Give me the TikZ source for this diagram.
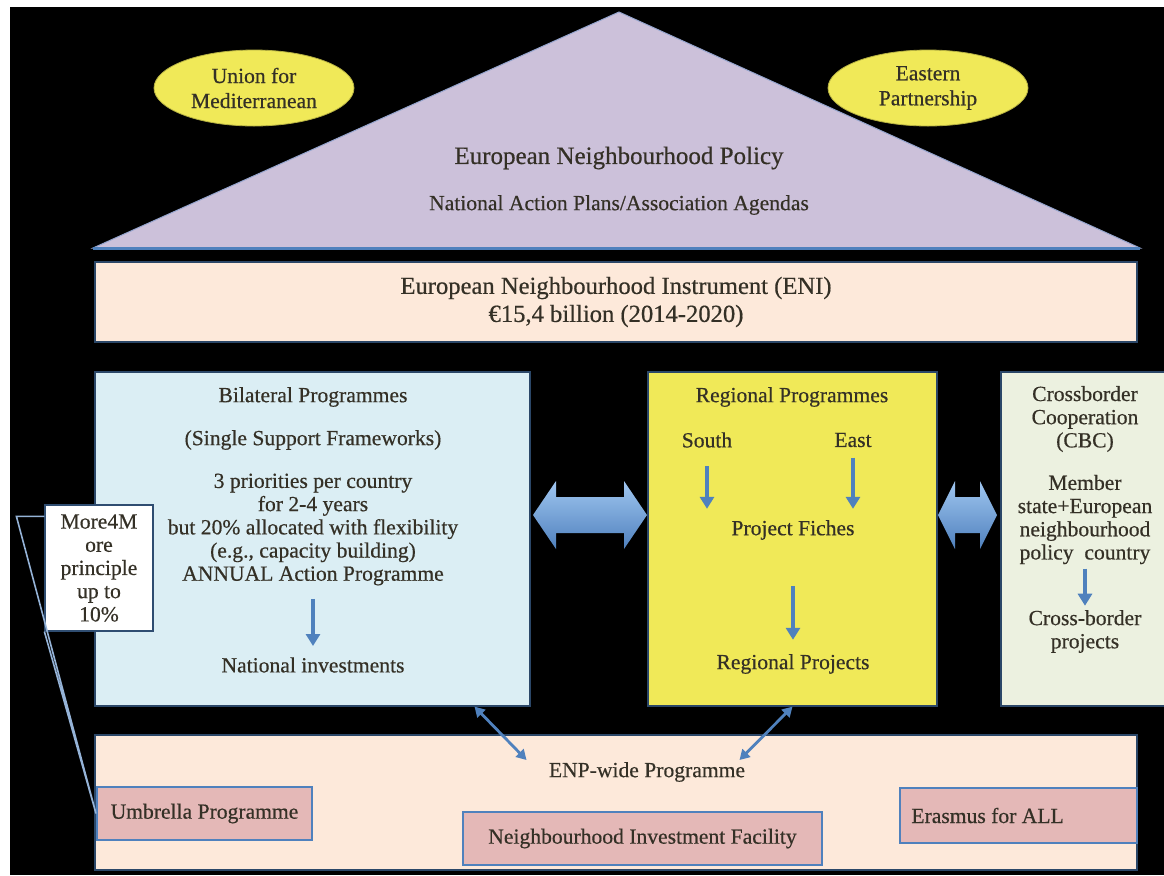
\documentclass[tikz,border=0pt]{standalone}
\usepackage{fontspec}
\setmainfont{Liberation Serif}[FakeBold=0.5]
\usetikzlibrary{arrows.meta,shapes.geometric}

\definecolor{roof}{RGB}{204,193,218}
\definecolor{peach}{RGB}{253,233,218}
\definecolor{paleblue}{RGB}{219,238,244}
\definecolor{lemon}{RGB}{240,233,88}
\definecolor{palegreen}{RGB}{236,241,224}
\definecolor{rosy}{RGB}{228,184,183}
\definecolor{steel}{RGB}{79,129,189}
\definecolor{arrowlight}{RGB}{160,198,240}
\definecolor{ink}{RGB}{52,48,38}

\tikzset{
	lbl/.style={text=ink, font=\fontsize{10.8}{11.6}\selectfont, align=center, inner sep=0pt},
	panel/.style={draw=steel!55!black, line width=0.6pt, inner sep=0pt},
	pinkbox/.style={fill=rosy, draw=steel, line width=1pt, inner sep=0pt},
	pill/.style={ellipse, fill=lemon, draw=lemon!75!black, line width=0.4pt, inner sep=0pt,
		minimum width=100pt, minimum height=38pt, lbl, font=\fontsize{10.8}{12.5}\selectfont},
	bigarrow/.style={top color=arrowlight, bottom color=steel},
	downarrow/.style={draw=steel, line width=2pt, -{Triangle[length=6pt,width=7pt]}},
	biarrow/.style={draw=steel, line width=1.4pt, {Triangle[length=5pt,width=5.5pt]}-{Triangle[length=5pt,width=5.5pt]}},
	pointer/.style={draw=steel!60!white, line width=0.8pt}
}

\begin{document}
\begin{tikzpicture}[x=0.5pt,y=-0.5pt]
		%%%%% START %%%%%
		\useasboundingbox (0,0) rectangle (1164,875);
		\fill[white] (0,0) rectangle (1164,875);
		\fill[black] (10,7) rectangle (1164,875);

		% roof
		\coordinate (roofL) at (93,248);
		\coordinate (roofT) at (619,12);
		\coordinate (roofR) at (1140,248);
		\filldraw[fill=roof, draw=steel!45!roof, line width=0.5pt] (roofL) -- (roofT) -- (roofR) -- cycle;
		\draw[steel, line width=1.5pt] (roofL) -- (roofR);

		\node[pill] (ufm) at (254,88) {Union for\\Mediterranean};
		\node[pill] (eap) at (928,88) {Eastern\\Partnership};
		\node[lbl, font=\fontsize{12.5}{14}\selectfont] (enp) at (619,158) {European Neighbourhood Policy};
		\node[lbl] (nap) at (619,205) {National Action Plans/Association Agendas};

		% instrument
		\node[panel, fill=peach, minimum width=521pt, minimum height=40pt] (eni) at (616,302) {};
		\node[lbl, font=\fontsize{12.3}{14}\selectfont] (enitxt) at (616,302) {European Neighbourhood Instrument (ENI)\\€15,4 billion (2014-2020)};

		% pillars
		\node[panel, fill=paleblue, minimum width=217.5pt, minimum height=167pt] (bilat) at (312.5,539) {};
		\node[panel, fill=lemon, minimum width=144.5pt, minimum height=167pt] (regio) at (792.5,539) {};
		\node[panel, fill=palegreen, minimum width=87pt, minimum height=167pt] (cbc) at (1088,539) {};

		\node[lbl] (bilattxt) at (313,397) {Bilateral Programmes};
		\node[lbl] (ssf) at (313,440) {(Single Support Frameworks)};
		\node[lbl] (prio) at (313,529.5) {3 priorities per country\\for 2-4 years\\but 20\% allocated with flexibility\\(e.g., capacity building)\\ANNUAL Action Programme};
		\node[lbl] (natinv) at (313,665) {National investments};
		\draw[downarrow, shorten <=6.5pt, shorten >=5.5pt] (prio.south) -- (natinv.north);

		\node[lbl] (regiotxt) at (792,397) {Regional Programmes};
		\node[lbl] (south) at (707,440) {South};
		\node[lbl] (east) at (853,440) {East};
		\node[lbl] (fiches) at (793,530) {Project Fiches};
		\node[lbl] (regproj) at (793,664) {Regional Projects};
		\draw[downarrow, shorten <=9pt, shorten >=5.5pt] (south.south) -- (south.south |- fiches.north);
		\draw[downarrow, shorten <=5pt, shorten >=5.5pt] (east.south) -- (east.south |- fiches.north);
		\draw[downarrow, shorten <=23pt, shorten >=7pt] (fiches.south) -- (regproj.north);

		\node[lbl] (cbctxt) at (1085,419) {Crossborder\\Cooperation\\(CBC)};
		\node[lbl] (member) at (1085,519.5) {Member\\state+European\\neighbourhood\\policy\ \ country};
		\node[lbl] (cbproj) at (1085,631.5) {Cross-border\\projects};
		\draw[downarrow, shorten <=2pt, shorten >=2pt] (member.south) -- (cbproj.north);

		% links between the pillars
		\shade[bigarrow] (533,515) -- (556,481) -- (556,497) -- (624,497) -- (624,481) -- (647,515)
			-- (624,549) -- (624,533) -- (556,533) -- (556,549) -- cycle;
		\shade[bigarrow] (938,515) -- (955,481) -- (955,497) -- (980,497) -- (980,481) -- (997,515)
			-- (980,549) -- (980,533) -- (955,533) -- (955,549) -- cycle;

		% foundation
		\node[panel, fill=peach, minimum width=521pt, minimum height=67.5pt] (found) at (616,802.5) {};
		\node[lbl] (enpwide) at (647,772) {ENP-wide Programme};
		\node[pinkbox, minimum width=107.5pt, minimum height=26.5pt] (umbrella) at (204.5,813.5) {};
		\node[lbl] at (umbrella.center) {Umbrella Programme};
		\node[pinkbox, minimum width=179.5pt, minimum height=26.5pt] (nif) at (642.5,838.5) {};
		\node[lbl] at (nif.center) {Neighbourhood Investment Facility};
		\node[pinkbox, minimum width=118.5pt, minimum height=27.5pt] (erasmus) at (1018.5,815.5) {};
		\node[lbl, anchor=west] at ([xshift=6pt]erasmus.west) {Erasmus for ALL};

		\draw[biarrow] ([xshift=81pt]bilat.south) -- ([xshift=-11pt,yshift=6pt]enpwide.west);
		\draw[biarrow] (regio.south) -- ([xshift=-3pt,yshift=6pt]enpwide.east);

		% callout
		\node[lbl, fill=white, draw=steel!60!black, line width=0.6pt, minimum width=54pt, minimum height=63pt] (more) at (99,568) {More4M\\ore\\principle\\up to\\10\%};
		\draw[pointer] ([yshift=-6pt]more.north west) -- ++(-28,0) -- (umbrella.west) -- (more.south west);
		%%%%% END %%%%%
	\end{tikzpicture}
\end{document}
